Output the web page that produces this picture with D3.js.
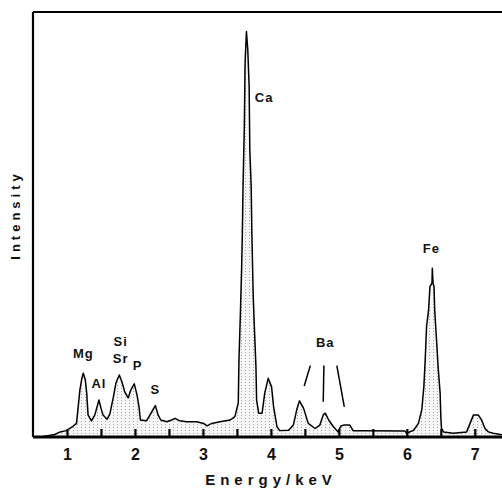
<!DOCTYPE html>
<html><head><meta charset="utf-8">
<script src="https://cdn.jsdelivr.net/npm/d3@7"></script>
<style>
html,body{margin:0;padding:0;background:#fff;}
svg{display:block;}
text{font-family:"Liberation Sans",Arial,sans-serif;font-weight:bold;fill:#111;}
</style></head>
<body><div id="chart"></div>
<script>
// Spectrum: energy (keV) and intensity (relative units)
const energy = [0.50,0.65,0.82,0.90,0.99,1.07,1.14,1.19,1.22,1.24,1.27,1.29,1.31,1.36,1.41,1.47,1.50,1.53,1.59,1.63,1.68,1.72,1.77,1.81,1.85,1.90,1.94,1.99,2.03,2.06,2.08,2.17,2.25,2.30,2.34,2.38,2.47,2.54,2.59,2.66,2.76,2.91,3.01,3.06,3.13,3.25,3.40,3.47,3.52,3.53,3.55,3.57,3.58,3.59,3.61,3.62,3.64,3.66,3.68,3.69,3.71,3.72,3.74,3.76,3.78,3.79,3.82,3.87,3.91,3.96,4.01,4.04,4.09,4.13,4.26,4.33,4.38,4.42,4.48,4.55,4.65,4.72,4.77,4.80,4.85,4.92,4.99,5.03,5.07,5.16,5.21,5.38,5.97,6.00,6.10,6.17,6.22,6.25,6.27,6.29,6.32,6.34,6.37,6.375,6.385,6.40,6.41,6.44,6.46,6.49,6.50,6.51,6.54,6.68,6.88,6.93,6.98,7.05,7.10,7.15,7.20,7.27,7.40];
const intensity = [0,0.1,0.6,1.2,1.5,2.3,3.2,11.1,13.9,15.0,13.4,10.4,5.2,3.8,5.2,8.7,6.8,5.2,4.2,5.4,9.2,12.7,14.6,12.9,10.6,9.2,11.1,12.5,9.9,7.1,4.0,3.8,6.0,7.4,5.2,4.0,3.6,4.0,4.4,3.8,3.6,3.6,3.2,2.6,3.2,3.6,4.0,4.8,8.0,18.1,28.3,40.1,48.0,58.9,73.9,88.0,95.4,91.1,82.4,67.5,58.9,48.0,33.0,24.5,16.5,8.7,5.6,5.6,10.4,13.8,11.8,7.1,2.4,1.5,1.6,2.8,6.4,8.5,6.8,3.2,2.0,2.8,5.2,5.6,4.0,2.4,1.2,2.6,2.8,2.8,1.5,1.5,1.4,0.9,1.6,3.2,6.4,11.8,18.1,26.0,29.9,35.4,36.2,39.7,36.2,35.4,29.9,22.0,16.5,10.3,4.8,2.0,1.2,0.9,1.2,3.2,5.2,5.2,4.0,2.0,1.2,0.9,0.5];

const tickValues = [1,1.5,2,2.5,3,3.5,4,4.5,5,5.5,6,6.5,7];
const peakNames = ["Mg","Al","Si","Sr","P","S","Ca","Ba","Fe"];
const peakE     = [1.24,1.47,1.79,1.79,2.04,2.30,3.90,4.80,6.36];
const peakI     = [18.7,11.6,21.5,17.3,15.8,10.2,78.8,21.2,43.3];
// Ba marker lines: [startE,startI,endE,endI]
const baLineE0 = [4.58,4.78,4.97];
const baLineI0 = [16.8,16.8,16.8];
const baLineE1 = [4.49,4.77,5.08];
const baLineI1 = [12.0,8.3,7.1];

const W = 502, H = 489;
const svg = d3.select("#chart").append("svg").attr("width", W).attr("height", H);

const x = d3.scaleLinear().domain([0.5, 7.4]).range([33, 502]);
const y = d3.scaleLinear().domain([0, 100]).range([437, 12]);

// stipple pattern
const defs = svg.append("defs");
const pat = defs.append("pattern").attr("id","stip").attr("patternUnits","userSpaceOnUse")
  .attr("width",4).attr("height",3);
pat.append("rect").attr("width",4).attr("height",3).attr("fill","#f6f6f6");
pat.append("rect").attr("x",1).attr("y",1).attr("width",1).attr("height",1).attr("fill","#aaaaaa");

const data = energy.map((e,i)=>({e, v: intensity[i]}));

svg.append("path").datum(data)
  .attr("d", d3.area().x(d=>x(d.e)).y0(y(0)).y1(d=>y(d.v)))
  .attr("fill","url(#stip)");
svg.append("path").datum(data)
  .attr("d", d3.line().x(d=>x(d.e)).y(d=>y(d.v)))
  .attr("fill","none").attr("stroke","#000").attr("stroke-width",1.5).attr("stroke-linejoin","round");

// frame: left and top
svg.append("line").attr("x1",x(0.5)).attr("x2",x(0.5)).attr("y1",y(100)).attr("y2",y(0))
  .attr("stroke","#000").attr("stroke-width",2.2);
svg.append("line").attr("x1",x(0.5)).attr("x2",W).attr("y1",y(100)).attr("y2",y(100))
  .attr("stroke","#000").attr("stroke-width",2);

// bottom axis
const ax = svg.append("g").attr("transform",`translate(0,${y(0)})`)
  .call(d3.axisBottom(x).tickValues(tickValues).tickSizeInner(-8).tickSizeOuter(0).tickPadding(12)
     .tickFormat(d => Number.isInteger(d) ? d : ""));
ax.select(".domain").remove();
ax.selectAll(".tick line").attr("stroke","#000").attr("stroke-width",2.2);
ax.selectAll(".tick text").attr("font-size",16).attr("fill","#111");
svg.append("line").attr("x1",x(0.5)).attr("x2",W).attr("y1",y(0)).attr("y2",y(0))
  .attr("stroke","#000").attr("stroke-width",2.8);

// axis titles
svg.append("text").attr("x",271).attr("y",485).attr("text-anchor","middle")
  .attr("font-size",15).attr("letter-spacing","5px").text("Energy/keV");
svg.append("text").attr("transform","translate(20,215) rotate(-90)").attr("text-anchor","middle")
  .attr("font-size",13).attr("letter-spacing","4px").text("Intensity");

// peak labels
svg.selectAll("text.pk").data(peakNames).join("text").attr("class","pk")
  .attr("x",(d,i)=>x(peakE[i])).attr("y",(d,i)=>y(peakI[i]))
  .attr("text-anchor","middle").attr("font-size",13).attr("letter-spacing","1px")
  .text(d=>d);

// Ba marker lines
svg.selectAll("line.ba").data(baLineE0).join("line").attr("class","ba")
  .attr("x1",(d,i)=>x(d)).attr("y1",(d,i)=>y(baLineI0[i]))
  .attr("x2",(d,i)=>x(baLineE1[i])).attr("y2",(d,i)=>y(baLineI1[i]))
  .attr("stroke","#000").attr("stroke-width",1.5);
</script></body></html>
